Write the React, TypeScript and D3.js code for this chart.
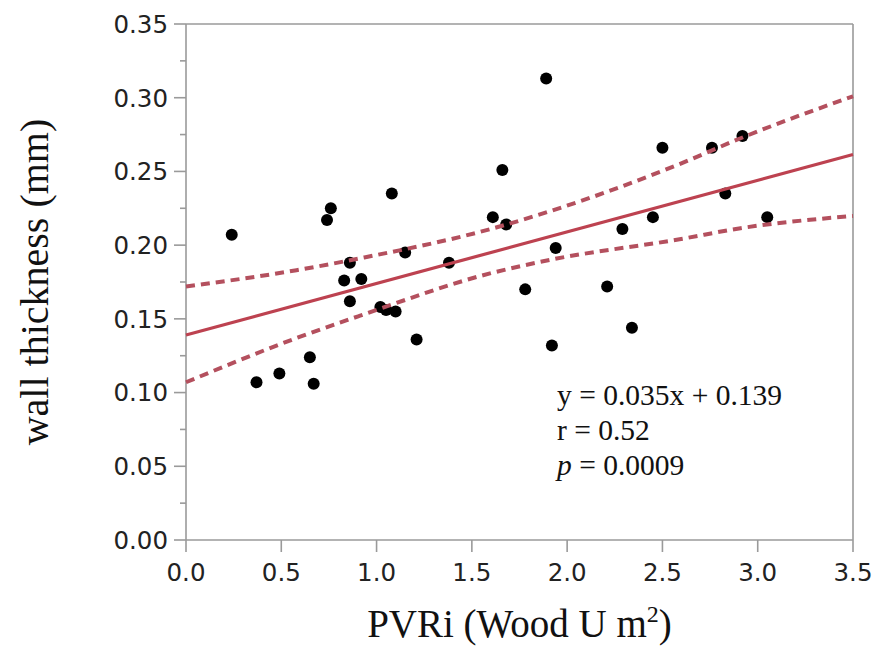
import React from "react";
import * as d3 from "d3";

// PVRi (Wood U m²) vs wall thickness (mm)
const pvri = [
  0.24, 0.37, 0.49, 0.65, 0.67, 0.74, 0.76, 0.83, 0.86, 0.86, 0.92, 1.02, 1.05,
  1.08, 1.1, 1.15, 1.21, 1.38, 1.61, 1.66, 1.68, 1.78, 1.89, 1.92, 1.94, 2.21,
  2.29, 2.34, 2.45, 2.5, 2.76, 2.83, 2.92, 3.05,
];
const wall = [
  0.207, 0.107, 0.113, 0.124, 0.106, 0.217, 0.225, 0.176, 0.162, 0.188, 0.177,
  0.158, 0.156, 0.235, 0.155, 0.195, 0.136, 0.188, 0.219, 0.251, 0.214, 0.17,
  0.313, 0.132, 0.198, 0.172, 0.211, 0.144, 0.219, 0.266, 0.266, 0.235, 0.274,
  0.219,
];

// fitted line y = 0.035x + 0.139
const slope = 0.035;
const intercept = 0.139;

// 95% band
const bandX = [0, 0.58, 0.91, 1.6, 1.91, 2.59, 2.91, 3.5];
const bandUpper = [0.172, 0.183, 0.191, 0.211, 0.223, 0.255, 0.2725, 0.301];
const bandLower = [0.107, 0.137, 0.152, 0.181, 0.19, 0.204, 0.2115, 0.2198];

const xTicks = [0, 0.5, 1, 1.5, 2, 2.5, 3, 3.5];
const yTicks = [0, 0.05, 0.1, 0.15, 0.2, 0.25, 0.3, 0.35];
const yMinor = [0.025, 0.075, 0.125, 0.175, 0.225, 0.275, 0.325];

const statLines = ["y = 0.035x + 0.139", "r = 0.52", "0.0009"];

const W = 875;
const H = 647;
const margin = { left: 186, top: 24, right: 22, bottom: 107 };
const axisColor = "#9a9a9a";
const lineColor = "#bd4250";
const dashColor = "#b4505e";
const tickFont = "'DejaVu Sans', Verdana, sans-serif";
const serif = "'Liberation Serif', 'Times New Roman', serif";

const App = () => {
  const x = d3
    .scaleLinear()
    .domain([0, 3.5])
    .range([margin.left, W - margin.right]);
  const y = d3
    .scaleLinear()
    .domain([0, 0.35])
    .range([H - margin.bottom, margin.top]);

  const x0 = x(0);
  const x1 = x(3.5);
  const y0 = y(0);
  const y1 = y(0.35);

  const band = d3
    .line<number>()
    .x((_, i) => x(bandX[i]))
    .y((d) => y(d))
    .curve(d3.curveMonotoneX);

  const points = pvri.map((v, i) => ({ x: v, y: wall[i] }));

  return (
    <svg
      width={W}
      height={H}
      style={{ position: "absolute", left: 0, top: 0, background: "#fff" }}
    >
      {/* frame */}
      <g stroke={axisColor} strokeWidth={1.6} fill="none">
        <line x1={x0} x2={x0} y1={y1} y2={y0} />
        <line x1={x0} x2={x1} y1={y0} y2={y0} />
        <line x1={x0} x2={x1} y1={y1} y2={y1} />
        <line x1={x1} x2={x1} y1={y1} y2={y0} />
        {yTicks.map((t) => (
          <line key={"yt" + t} x1={x0 - 12} x2={x0} y1={y(t)} y2={y(t)} />
        ))}
        {yMinor.map((t) => (
          <line key={"ym" + t} x1={x0 - 6} x2={x0} y1={y(t)} y2={y(t)} />
        ))}
        {xTicks.map((t) => (
          <line key={"xt" + t} x1={x(t)} x2={x(t)} y1={y0} y2={y0 + 12} />
        ))}
      </g>

      {/* tick labels */}
      <g fontFamily={tickFont} fontSize={24.5} fill="#222">
        {yTicks.map((t) => (
          <text
            key={"yl" + t}
            x={x0 - 18}
            y={y(t)}
            dy="0.36em"
            textAnchor="end"
          >
            {d3.format(".2f")(t)}
          </text>
        ))}
        {xTicks.map((t) => (
          <text key={"xl" + t} x={x(t)} y={y0 + 41} textAnchor="middle">
            {d3.format(".1f")(t)}
          </text>
        ))}
      </g>

      {/* points */}
      <g fill="#000">
        {points.map((p, i) => (
          <circle key={i} cx={x(p.x)} cy={y(p.y)} r={6} />
        ))}
      </g>

      {/* confidence band */}
      <path
        d={band(bandUpper) || ""}
        fill="none"
        stroke={dashColor}
        strokeWidth={4}
        strokeDasharray="9,6"
      />
      <path
        d={band(bandLower) || ""}
        fill="none"
        stroke={dashColor}
        strokeWidth={4}
        strokeDasharray="9,6"
      />

      {/* regression line */}
      <line
        x1={x(0)}
        y1={y(intercept)}
        x2={x(3.5)}
        y2={y(intercept + slope * 3.5)}
        stroke={lineColor}
        strokeWidth={3.2}
      />

      {/* stats */}
      <g fontFamily={serif} fontSize={29.5} fill="#111">
        <text x={557} y={405}>
          {statLines[0]}
        </text>
        <text x={557} y={440}>
          {statLines[1]}
        </text>
        <text x={557} y={475}>
          <tspan fontStyle="italic">p</tspan> = {statLines[2]}
        </text>
      </g>

      {/* axis titles */}
      <text
        x={(x0 + x1) / 2}
        y={637}
        textAnchor="middle"
        fontFamily={serif}
        fontSize={39}
        fill="#111"
      >
        PVRi (Wood U m
        <tspan fontSize={24} dy={-15}>
          2
        </tspan>
        <tspan dy={15}>)</tspan>
      </text>
      <text
        transform={`translate(48, ${(y0 + y1) / 2}) rotate(-90)`}
        textAnchor="middle"
        fontFamily={serif}
        fontSize={40}
        fill="#111"
      >
        wall thickness (mm)
      </text>
    </svg>
  );
};

export default App;
